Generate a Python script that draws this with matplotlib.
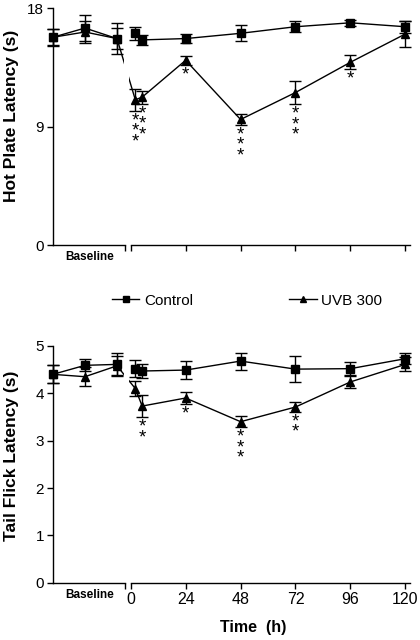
import matplotlib
matplotlib.use("Agg")
import matplotlib.pyplot as plt
from matplotlib.lines import Line2D

plt.rcParams['font.family'] = ['Liberation Sans', 'DejaVu Sans']

# ---- data ----
baseline_x = [-34, -20, -6]          # positions of the three baseline measurements
time_h = [2, 5, 24, 48, 72, 96, 120]  # hours after irradiation
xtick_vals = [0, 24, 48, 72, 96, 120]
xtick_labels = ['0', '24', '48', '72', '96', '120']

hp_ctrl_base = [15.8, 16.5, 15.7]
hp_ctrl_base_err = [0.65, 1.0, 1.2]
hp_uvb_base = [15.8, 16.2, 15.7]
hp_uvb_base_err = [0.6, 0.8, 0.8]
hp_ctrl = [16.1, 15.6, 15.7, 16.1, 16.6, 16.9, 16.6]
hp_ctrl_err = [0.5, 0.4, 0.35, 0.6, 0.4, 0.25, 0.45]
hp_uvb = [11.05, 11.25, 14.05, 9.55, 11.6, 13.9, 16.05]
hp_uvb_err = [0.85, 0.5, 0.35, 0.4, 0.9, 0.55, 1.0]
hp_stars = ['***', '***', '*', '***', '***', '*', '']

tf_ctrl_base = [4.40, 4.59, 4.61]
tf_ctrl_base_err = [0.19, 0.13, 0.25]
tf_uvb_base = [4.40, 4.35, 4.58]
tf_uvb_base_err = [0.19, 0.2, 0.2]
tf_ctrl = [4.52, 4.47, 4.49, 4.68, 4.51, 4.52, 4.73]
tf_ctrl_err = [0.18, 0.15, 0.19, 0.18, 0.27, 0.13, 0.11]
tf_uvb = [4.10, 3.73, 3.90, 3.40, 3.71, 4.24, 4.61]
tf_uvb_err = [0.15, 0.24, 0.12, 0.12, 0.1, 0.13, 0.15]
tf_stars = ['', '**', '*', '***', '**', '', '']

BREAK = -2.6
XMIN, XMAX = -34, 122

fig = plt.figure(figsize=(4.2, 6.4), dpi=100)
ax_top = fig.add_axes([0.126, 0.617, 0.850, 0.370])
ax_bot = fig.add_axes([0.126, 0.0895, 0.850, 0.370])

ekw = dict(color='black', lw=1.0, elinewidth=1.0, capsize=4, capthick=1.0, clip_on=False)


def draw_panel(ax, cb, cbe, ub, ube, c, ce, u, ue, stars, ymax, yticks, ylabel,
               ylabel_y, show_xlabels):
    # control: baseline and post separately
    ax.errorbar(baseline_x, cb, yerr=cbe, marker='s', ms=6, **ekw)
    ax.errorbar(time_h, c, yerr=ce, marker='s', ms=6, **ekw)
    # UVB: connected across the break
    ax.errorbar(baseline_x + time_h, ub + u, yerr=ube + ue, marker='^', ms=6, **ekw)
    # gap at the axis break
    ax.axvspan(-3.0, -0.6, color='white', zorder=2.2, lw=0)

    for t, v, e, s in zip(time_h, u, ue, stars):
        if s:
            ax.annotate('\n'.join(s), xy=(t, v - e), xytext=(0, -1.0),
                        textcoords='offset points', ha='center', va='top',
                        fontsize=13.5, linespacing=0.5)

    ax.set_xlim(XMIN, XMAX)
    ax.set_ylim(0, ymax)
    ax.set_yticks(yticks)
    ax.tick_params(axis='y', direction='out', length=4, width=1, pad=2.5, labelsize=11)
    ax.set_xticks([BREAK] + xtick_vals)
    if show_xlabels:
        ax.set_xticklabels([''] + xtick_labels, fontsize=11.5)
    else:
        ax.set_xticklabels([''] * (len(xtick_vals) + 1))
    ax.tick_params(axis='x', direction='out', length=4, width=1, pad=2.5)
    for side in ['top', 'right', 'bottom']:
        ax.spines[side].set_visible(False)
    ax.spines['left'].set_linewidth(1)
    tr = ax.get_xaxis_transform()
    ax.plot([XMIN, BREAK], [0, 0], color='black', lw=1, transform=tr, clip_on=False, zorder=3)
    ax.plot([0, XMAX], [0, 0], color='black', lw=1, transform=tr, clip_on=False, zorder=3)
    ax.annotate('Baseline', xy=(-18, 0), xycoords=('data', 'axes fraction'),
                xytext=(0, -4.5), textcoords='offset points', ha='center', va='top',
                fontsize=8.5, fontweight='bold')
    ax.set_ylabel(ylabel, fontsize=12.5, fontweight='bold')
    ax.yaxis.set_label_coords(-0.094, ylabel_y)


draw_panel(ax_top, hp_ctrl_base, hp_ctrl_base_err, hp_uvb_base, hp_uvb_base_err,
           hp_ctrl, hp_ctrl_err, hp_uvb, hp_uvb_err, hp_stars, 18, [0, 9, 18],
           'Hot Plate Latency (s)', 0.545, False)
draw_panel(ax_bot, tf_ctrl_base, tf_ctrl_base_err, tf_uvb_base, tf_uvb_base_err,
           tf_ctrl, tf_ctrl_err, tf_uvb, tf_uvb_err, tf_stars, 5, [0, 1, 2, 3, 4, 5],
           'Tail Flick Latency (s)', 0.535, True)

fig.text(0.602, 0.019, 'Time  (h)', ha='center', va='center', fontsize=11.5, fontweight='bold')

handles = [Line2D([], [], color='black', lw=1, marker='s', ms=5),
           Line2D([], [], color='black', lw=1, marker='^', ms=5)]
fig.legend(handles, ['Control', 'UVB 300'], loc='center', bbox_to_anchor=(0.588, 0.530),
           ncol=2, frameon=False, fontsize=11, handlelength=1.8, handletextpad=0.3,
           columnspacing=6.3)

fig.savefig('out.png', dpi=100)
